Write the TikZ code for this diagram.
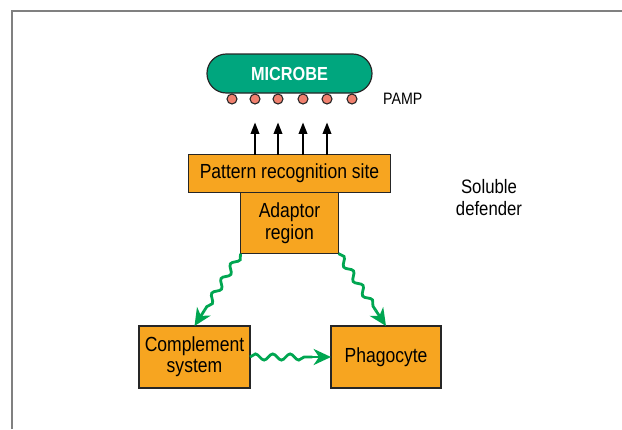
\documentclass[tikz,border=0pt]{standalone}
\usepackage{fontspec}
\setmainfont{Liberation Sans}[FakeStretch=0.86]
\usetikzlibrary{positioning,calc,arrows.meta,decorations.pathmorphing}
\definecolor{boxorange}{HTML}{F7A520}
\definecolor{microbegreen}{HTML}{00A67E}
\definecolor{wavegreen}{HTML}{00A651}
\definecolor{pampred}{HTML}{F0806E}
\tikzset{
  box/.style={draw=black!85, fill=boxorange, line width=0.9pt, inner sep=0pt, outer sep=0pt,
    align=center, font=\fontsize{15.3}{16}\selectfont},
  pamp/.style={circle, draw=black!85, fill=pampred, line width=0.8pt, minimum size=7.5pt, inner sep=0pt},
  lbl/.style={inner sep=0pt, align=center, font=\fontsize{14.6}{16.5}\selectfont},
  recog/.style={-{Triangle[length=8.5pt,width=6.5pt]}, line width=1.1pt},
  wave/.style={wavegreen, line width=2.1pt, decorate,
    decoration={snake, amplitude=2.3pt, segment length=13pt, post length=1pt}},
  wavehead/.style={-{Stealth[length=13pt,width=12pt,inset=4pt]}, wavegreen, line width=2.1pt}
}

\begin{document}
\begin{tikzpicture}[x=0.75pt, y=-0.75pt]
  \useasboundingbox (0,0) rectangle (622,429);
  \draw[gray, line width=1pt] (12,429) -- (12,11) -- (622,11);
  \node (M) [draw=black!85, fill=microbegreen, line width=0.9pt, rounded corners=14.5pt,
    minimum width=123.75pt, minimum height=29.25pt, text=white,
    font=\fontsize{14.2}{14}\selectfont\bfseries] at (289.5,73.5) {MICROBE};
  \foreach \i/\x in {1/232,2/255,3/278,4/303,5/327,6/352}
    \node (d\i) [pamp] at (\x,99) {};
  \node (L) [lbl, font=\fontsize{12.4}{12}\selectfont, right=19pt of d6] {PAMP};
  \node (R) [box, minimum width=151.5pt, minimum height=28.5pt, below=45.75pt of M] {Pattern recognition site};
  \node (A) [box, minimum width=73.5pt, minimum height=45.75pt, below=0pt of R] {Adaptor\\region};
  \node (S) [lbl] at (489,198) {Soluble\\defender};
  \node (C) [box, minimum width=83.25pt, minimum height=46.5pt] at (194.5,357) {Complement\\system};
  \node (P) [box, minimum width=82.5pt, minimum height=46.5pt, right=60.75pt of C] {Phagocyte};
  \foreach \i in {2,...,5}
    \draw[recog] (R.north -| d\i) -- ([yshift=-13.5pt]d\i.south);
  \coordinate (w1) at ($(C.north)!14pt!(A.south west)$);
  \coordinate (w2) at ($(P.north)!14pt!(A.south east)$);
  \coordinate (w3) at ($(P.west)!14pt!(C.east)$);
  \draw[wave] (A.south west) -- (w1);
  \draw[wavehead] (w1) -- (C.north);
  \draw[wave] (A.south east) -- (w2);
  \draw[wavehead] (w2) -- (P.north);
  \draw[wave] (C.east) -- (w3);
  \draw[wavehead] (w3) -- (P.west);
\end{tikzpicture}
\end{document}
